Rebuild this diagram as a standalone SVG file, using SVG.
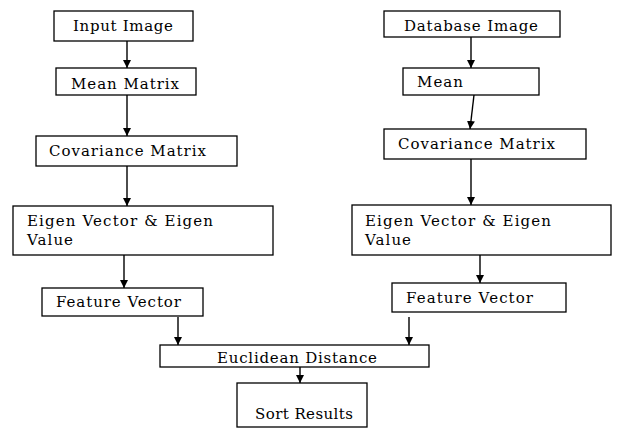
<svg xmlns="http://www.w3.org/2000/svg" width="617" height="428" viewBox="0 0 617 428">
<defs>
<style>
rect{fill:#fff;stroke:#000;stroke-width:1.3}
text{font-size:15px;fill:#000}
.c line{stroke:#000;stroke-width:1.4}
</style>
<marker id="ah" viewBox="0 0 10 10" refX="10" refY="5" markerWidth="8" markerHeight="8" markerUnits="userSpaceOnUse" orient="auto">
<path d="M0,0 L10,5 L0,10 z" fill="#000"/>
</marker>
</defs>
<rect x="0" y="0" width="617" height="428" style="stroke:none"/>
<g class="c">
<line x1="127" y1="41" x2="127" y2="68" marker-end="url(#ah)"/>
<line x1="127" y1="95" x2="127" y2="136" marker-end="url(#ah)"/>
<line x1="127" y1="166" x2="127" y2="206" marker-end="url(#ah)"/>
<line x1="124" y1="255" x2="124" y2="288" marker-end="url(#ah)"/>
<line x1="178" y1="317" x2="178" y2="345" marker-end="url(#ah)"/>
<line x1="471" y1="37" x2="471" y2="68" marker-end="url(#ah)"/>
<line x1="474" y1="95" x2="470" y2="129" marker-end="url(#ah)"/>
<line x1="471" y1="159" x2="471" y2="205" marker-end="url(#ah)"/>
<line x1="480" y1="255" x2="480" y2="283" marker-end="url(#ah)"/>
<line x1="409" y1="317" x2="409" y2="345" marker-end="url(#ah)"/>
<line x1="300" y1="367" x2="300" y2="383" marker-end="url(#ah)"/>
</g>
<g font-family="'DejaVu Serif', 'Liberation Serif', serif">
<g id="input-image"><rect x="54" y="11" width="139" height="30"/><text x="73" y="31" textLength="100" lengthAdjust="spacing">Input  Image</text></g>
<g id="mean-matrix"><rect x="56" y="68" width="140" height="27"/><text x="71" y="89" textLength="108" lengthAdjust="spacing">Mean Matrix</text></g>
<g id="cov-left"><rect x="36" y="136" width="201" height="30"/><text x="49" y="156" textLength="157" lengthAdjust="spacing">Covariance  Matrix</text></g>
<g id="eigen-left"><rect x="13" y="206" width="260" height="49"/><text x="27" y="226" textLength="186" lengthAdjust="spacing">Eigen  Vector  &amp; Eigen</text><text x="27" y="245" textLength="46" lengthAdjust="spacing">Value</text></g>
<g id="feature-left"><rect x="42" y="288" width="161" height="28"/><text x="56" y="307" textLength="125" lengthAdjust="spacing">Feature  Vector</text></g>
<g id="database-image"><rect x="384" y="11" width="176" height="26"/><text x="404" y="31" textLength="134" lengthAdjust="spacing">Database  Image</text></g>
<g id="mean"><rect x="403" y="68" width="136" height="27"/><text x="417" y="87" textLength="46" lengthAdjust="spacing">Mean</text></g>
<g id="cov-right"><rect x="384" y="129" width="202" height="30"/><text x="398" y="149" textLength="157" lengthAdjust="spacing">Covariance  Matrix</text></g>
<g id="eigen-right"><rect x="352" y="205" width="259" height="50"/><text x="365" y="226" textLength="186" lengthAdjust="spacing">Eigen  Vector  &amp; Eigen</text><text x="365" y="245" textLength="46" lengthAdjust="spacing">Value</text></g>
<g id="feature-right"><rect x="392" y="283" width="174" height="29"/><text x="406" y="303" textLength="127" lengthAdjust="spacing">Feature  Vector</text></g>
<g id="euclidean"><rect x="160" y="345" width="269" height="22"/><text x="217" y="363" textLength="160" lengthAdjust="spacing">Euclidean  Distance</text></g>
<g id="sort-results"><rect x="237" y="383" width="130" height="44"/><text x="255" y="419" textLength="98" lengthAdjust="spacing">Sort  Results</text></g>
</g>
</svg>
